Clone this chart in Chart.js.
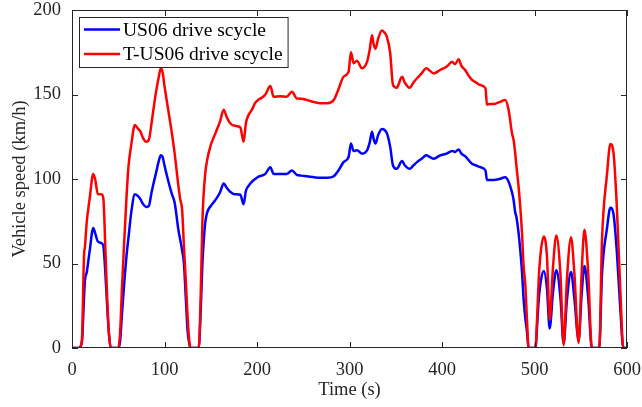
<!DOCTYPE html>
<html>
<head>
<meta charset="utf-8">
<script src="https://cdn.jsdelivr.net/npm/chart.js@4.4.0/dist/chart.umd.min.js"></script>
<style>
  html, body { margin: 0; padding: 0; background: #fff; }
  #wrap { width: 642px; height: 407px; }
</style>
</head>
<body>
<div id="wrap"><canvas id="speedChart"></canvas></div>
<script>
// time axis (s), shared by both drive cycles
const timeSec = [
  0, 8, 10, 11, 13, 14, 16, 19, 23, 25, 28, 32, 34, 36, 38, 40, 42, 50,
  52, 54, 56, 59, 61, 64, 68, 71, 74, 77, 80, 83, 86, 88, 91, 94, 96, 98,
  100, 104, 108, 111, 115, 117, 119, 121, 123, 125, 127, 128, 137,
  139, 141, 142, 144, 146, 150, 155, 160, 164, 167, 171, 176, 182, 185.5,
  188, 191, 194.6, 198, 201.7, 205, 209, 214.4, 218, 225, 232, 237.8, 243,
  248, 254, 262, 268, 276, 283, 288, 293.6, 299, 301.6, 304.4, 308, 313.5,
  319, 322, 324.3, 326, 328, 331, 335, 338, 340.5, 344, 347, 351, 356.8,
  360, 365, 369, 373, 378, 383, 387, 391, 398, 405, 411, 414, 418, 421,
  425, 429, 432.4, 437, 441.4, 447, 448.6, 452, 456, 462, 468.4, 472,
  475.7, 477.4, 479.2, 480.4, 482.8, 484.6, 486.5, 488.3, 490, 492, 493.6,
  501, 503, 504.5, 507, 510, 513.5, 516.4, 520, 523.6, 528, 531.5, 535,
  539.5, 543, 547.7, 551, 554, 558, 562, 570, 573, 578.4, 582, 585.5, 589,
  592.8, 596, 600
];

// US06 drive scycle (km/h)
const us06Speed = [
  0, 0, 2, 5, 30, 40, 45, 57, 71, 68, 63, 62, 60, 45, 25, 8, 0, 0,
  4, 20, 35, 55, 65, 80, 91, 90, 88, 85, 83.5, 84, 92, 97, 104, 111, 114, 113,
  108, 99, 91, 86, 70, 64, 58, 50, 30, 10, 2, 0, 0,
  20, 50, 60, 74, 80, 84, 87.6, 92, 97.4, 95, 92.5, 91, 90.7, 85,
  93, 96, 98.4, 100, 101.4, 102, 103, 107, 103, 103, 103, 105, 102.5,
  102, 101.6, 101, 100.7, 100.7, 101.6, 105, 110, 113, 121, 116.5, 117, 115,
  117, 122, 128, 124, 121, 126, 129.6, 129, 127, 119, 108, 106, 110.6,
  108, 106, 108, 110, 112, 114, 113, 112, 114, 115, 116.6, 116, 117.5, 115,
  113.5, 111, 109, 108, 107, 105, 99.4, 99.4, 99.4, 100, 101, 98.4,
  92, 87.6, 80, 77.7, 68, 58, 45, 28.4, 18, 9, 0,
  0, 15, 28, 40, 45.5, 35, 11.6, 33, 46, 30, 2.8, 28,
  45, 30, 4.7, 32, 48.5, 30, 0, 0, 44, 71, 83, 79, 57,
  23, 0, 0
];

// T-US06 drive scycle (km/h)
const tUs06Speed = [
  0, 0, 2, 8, 55, 60, 75, 88, 103, 100, 91, 91, 88, 60, 30, 8, 0, 0,
  9, 35, 58, 90, 107, 120, 132, 130, 128, 124, 122, 123, 133, 141, 152, 161, 165.5, 163,
  155, 141, 127, 115, 96, 88, 82, 60, 40, 18, 3, 0, 0,
  28, 75, 88, 103, 111, 120, 127, 134, 141, 137, 133, 131.5, 130.5, 122,
  133, 138, 141, 145, 147, 148, 150, 155, 148.7, 149, 148.7, 151.7, 147.6,
  147.5, 146.7, 145.5, 144.8, 144.8, 146.7, 153, 160.5, 163.5, 175, 168.5, 170, 165.5,
  169.4, 177, 185, 180, 177, 183, 187.8, 186.5, 184, 174.4, 155.6, 154, 160.5,
  156.8, 154, 157, 159.6, 162.5, 165.5, 164, 162.5, 164.5, 166.4, 169.4, 168, 170.8, 167,
  164.5, 161, 158.6, 157, 155.6, 153.7, 144, 144.4, 144.4, 145.5, 146.7, 140.8,
  127, 123, 115, 108, 95.4, 83.6, 67.9, 48, 38, 15, 0,
  0, 20, 40, 58, 66, 54, 16.6, 48, 66.6, 44, 1.7, 40,
  65.6, 45, 3, 45, 70, 45, 0, 0, 64, 103, 120.7, 115, 83.6,
  34, 0, 0
];

const seriesLabels = ['US06 drive scycle', 'T-US06 drive scycle'];
const seriesColors = ['#0000ff', '#ff0000'];
const xTicks = [0, 100, 200, 300, 400, 500, 600];
const yTicks = [0, 50, 100, 150, 200];

const axisColor = '#262626';
const serif = "'Liberation Serif', 'Times New Roman', serif";

function toPoints(values) {
  return timeSec.map((t, i) => ({ x: t, y: values[i] }));
}

// MATLAB style box with inward ticks on all four sides
const boxPlugin = {
  id: 'matlabBox',
  afterDatasetsDraw(chart) {
    const { ctx, chartArea: a, scales } = chart;
    const len = 6;
    ctx.save();
    ctx.strokeStyle = axisColor;
    ctx.lineWidth = 1;
    ctx.strokeRect(a.left + 0.5, a.top + 0.5, a.right - a.left - 1, a.bottom - a.top - 1);
    ctx.beginPath();
    scales.x.ticks.forEach(tk => {
      const px = Math.round(scales.x.getPixelForValue(tk.value)) + 0.5;
      ctx.moveTo(px, a.bottom); ctx.lineTo(px, a.bottom - len);
      ctx.moveTo(px, a.top); ctx.lineTo(px, a.top + len);
    });
    scales.y.ticks.forEach(tk => {
      const py = Math.round(scales.y.getPixelForValue(tk.value)) + 0.5;
      ctx.moveTo(a.left, py); ctx.lineTo(a.left + len, py);
      ctx.moveTo(a.right, py); ctx.lineTo(a.right - len, py);
    });
    ctx.stroke();
    ctx.restore();
  },
  afterDraw(chart) {
    // legend box inside the top-left corner of the plot
    const { ctx, chartArea: a } = chart;
    const font = '19.5px ' + serif;
    ctx.save();
    ctx.font = font;
    const textW = Math.max(...seriesLabels.map(s => ctx.measureText(s).width));
    const x0 = a.left + 7, y0 = a.top + 7;
    const rowH = 24.5;
    const w = 5 + 36 + 3 + textW + 5;
    const h = 50;
    ctx.fillStyle = '#fff';
    ctx.fillRect(x0, y0, w, h);
    ctx.strokeStyle = axisColor;
    ctx.lineWidth = 1;
    ctx.strokeRect(x0 + 0.5, y0 + 0.5, w, h);
    seriesLabels.forEach((label, i) => {
      const cy = y0 + 12.5 + i * rowH;
      ctx.strokeStyle = seriesColors[i];
      ctx.lineWidth = 2.5;
      ctx.beginPath();
      ctx.moveTo(x0 + 5, cy);
      ctx.lineTo(x0 + 41, cy);
      ctx.stroke();
      ctx.fillStyle = '#000';
      ctx.textBaseline = 'middle';
      ctx.textAlign = 'left';
      ctx.fillText(label, x0 + 44, cy + 1);
    });
    ctx.restore();
  }
};

new Chart(document.getElementById('speedChart'), {
  type: 'line',
  data: {
    datasets: [
      {
        label: seriesLabels[0],
        data: toPoints(us06Speed),
        borderColor: seriesColors[0],
        borderWidth: 2.5,
        pointRadius: 0,
        cubicInterpolationMode: 'monotone',
        order: 1
      },
      {
        label: seriesLabels[1],
        data: toPoints(tUs06Speed),
        borderColor: seriesColors[1],
        borderWidth: 2.5,
        pointRadius: 0,
        cubicInterpolationMode: 'monotone',
        order: 0
      }
    ]
  },
  options: {
    responsive: true,
    maintainAspectRatio: false,
    animation: false,
    layout: { padding: { top: 10, right: 15, left: 0, bottom: 0 } },
    plugins: {
      legend: { display: false },
      tooltip: { enabled: false }
    },
    scales: {
      x: {
        type: 'linear',
        min: 0,
        max: 600,
        grid: { display: false },
        border: { display: false },
        afterBuildTicks: scale => { scale.ticks = xTicks.map(v => ({ value: v })); },
        afterFit: scale => {
          scale.height = 59;
          scale.paddingLeft = 0;
          scale.paddingRight = 0;
        },
        ticks: {
          color: axisColor,
          padding: 5,
          maxRotation: 0,
          font: { family: serif, size: 18.5, lineHeight: 1 }
        },
        title: {
          display: true,
          text: 'Time (s)',
          color: axisColor,
          padding: { top: 0, bottom: 6 },
          font: { family: serif, size: 18.5 }
        }
      },
      y: {
        min: 0,
        max: 200,
        grid: { display: false },
        border: { display: false },
        afterBuildTicks: scale => { scale.ticks = yTicks.map(v => ({ value: v })); },
        afterFit: scale => {
          scale.width = 72;
          scale.paddingTop = 0;
          scale.paddingBottom = 0;
        },
        ticks: {
          color: axisColor,
          padding: 3,
          font: { family: serif, size: 18.5, lineHeight: 1 }
        },
        title: {
          display: true,
          text: 'Vehicle speed (km/h)',
          color: axisColor,
          padding: { top: 9, bottom: 0 },
          font: { family: serif, size: 18.5 }
        }
      }
    }
  },
  plugins: [boxPlugin]
});
</script>
</body>
</html>
